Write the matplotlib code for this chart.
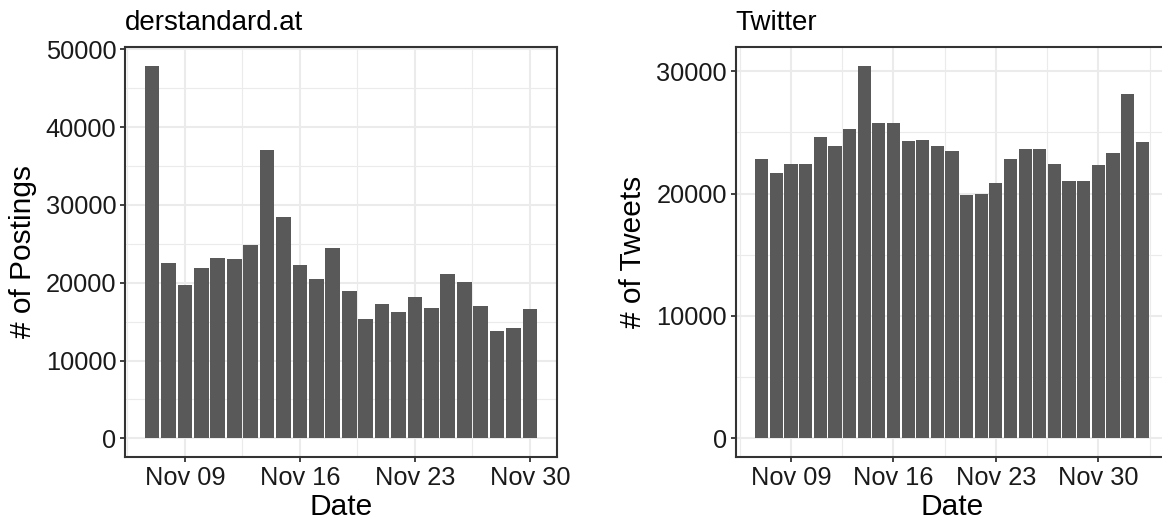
import datetime as dt
import numpy as np
import matplotlib
matplotlib.use("Agg")
import matplotlib.pyplot as plt
import matplotlib.dates as mdates
from matplotlib.ticker import MultipleLocator, FixedLocator

plt.rcParams['font.family'] = ['Liberation Sans', 'DejaVu Sans']

# ---------------------------------------------------------------
# Data (daily counts).
# ---------------------------------------------------------------
std_start = dt.date(2020, 11, 7)
std_counts = [47900, 22600, 19750, 21950, 23200, 23100, 24900, 37000,
              28400, 22300, 20500, 24400, 18950, 15350, 17300, 16250,
              18200, 16800, 21150, 20150, 17050, 13850, 14200, 16650]

tw_start = dt.date(2020, 11, 7)
tw_counts = [22850, 21700, 22450, 22450, 24650, 23900, 25250, 30450,
             25800, 25800, 24300, 24400, 23900, 23500, 19900, 20000,
             20900, 22850, 23600, 23600, 22450, 21050, 21050, 22350,
             23350, 28150, 24250]

titles = ['derstandard.at', 'Twitter']
ylabels = ['# of Postings', '# of Tweets']
xtick_dates = [dt.date(2020, 11, 9), dt.date(2020, 11, 16),
               dt.date(2020, 11, 23), dt.date(2020, 11, 30)]

bar_color = '#595959'
grid_color = '#EBEBEB'
frame_color = '#333333'

fig = plt.figure(figsize=(11.62, 5.25), dpi=100)
W, H = 1162, 525


def panel(px_left, px_right, start, counts, title, ylabel, ystep):
    ax = fig.add_axes([px_left / W, (H - 457) / H,
                       (px_right - px_left) / W, 410 / H])
    days = [start + dt.timedelta(days=i) for i in range(len(counts))]
    x = mdates.date2num(days)
    ax.bar(x, counts, width=0.9, color=bar_color, zorder=2)

    # ggplot-like expansion (5% each side)
    lo, hi = x[0] - 0.45, x[-1] + 0.45
    pad = 0.05 * (hi - lo)
    ax.set_xlim(lo - pad, hi + pad)
    ymax = max(counts)
    ax.set_ylim(-0.05 * ymax, 1.05 * ymax)

    major = mdates.date2num(xtick_dates)
    ax.xaxis.set_major_locator(FixedLocator(major))
    ax.xaxis.set_minor_locator(FixedLocator(np.concatenate([[major[0] - 3.5], major + 3.5])))
    ax.set_xticklabels([d.strftime('%b %d') for d in xtick_dates])
    ax.yaxis.set_major_locator(MultipleLocator(ystep))
    ax.yaxis.set_minor_locator(MultipleLocator(ystep / 2))

    ax.grid(which='major', color=grid_color, linewidth=1.5, zorder=0)
    ax.grid(which='minor', color=grid_color, linewidth=0.8, zorder=0)
    ax.set_axisbelow(True)

    for s in ax.spines.values():
        s.set_color(frame_color)
        s.set_linewidth(1.5)
    ax.tick_params(which='major', length=3.8, width=1.3, color=frame_color,
                   labelsize=18.3, labelcolor='#1a1a1a', pad=2.5)
    ax.tick_params(which='minor', length=0)

    ax.set_title(title, loc='left', fontsize=20, pad=12.5)
    ax.set_xlabel('Date', fontsize=21.5, labelpad=2)
    ax.set_ylabel(ylabel, fontsize=21.5, labelpad=6.5)
    return ax


panel(125, 557, std_start, std_counts, titles[0], ylabels[0], 10000)
panel(735.5, 1168.5, tw_start, tw_counts, titles[1], ylabels[1], 10000)

fig.savefig('out.png', dpi=100)
